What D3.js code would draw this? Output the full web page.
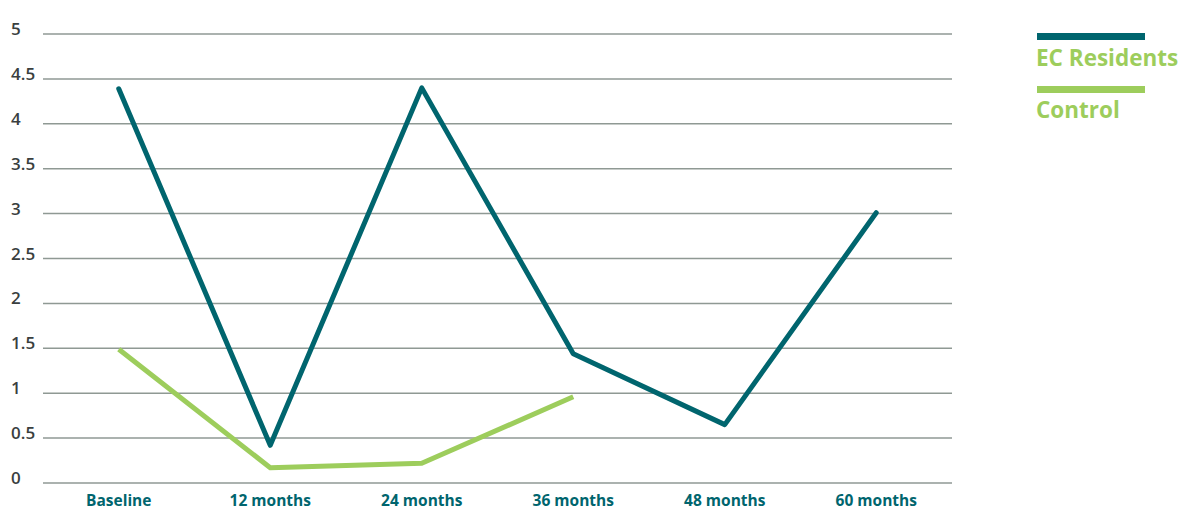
<!DOCTYPE html>
<html><head><meta charset="utf-8">
<script src="https://cdn.jsdelivr.net/npm/d3@7"></script>
<style>body{margin:0;background:#fff}svg{display:block}</style>
</head><body><div id="chart"></div>
<script>
const categories = ["Baseline","12 months","24 months","36 months","48 months","60 months"];
const ecResidents = [4.39, 0.42, 4.40, 1.44, 0.65, 3.01];
const control = [1.49, 0.17, 0.22, 0.96];
const yTicks = [0,0.5,1,1.5,2,2.5,3,3.5,4,4.5,5];
const seriesNames = ["EC Residents","Control"];

const W=1183,H=511;
const dark="#00656e", green="#9dcd5c", grid="#8f9994";
const svg=d3.select("#chart").append("svg").attr("width",W).attr("height",H);
const x=d3.scaleBand().domain(categories).range([43,952]).padding(0);
const y=d3.scaleLinear().domain([0,5]).range([483,34]);

const g=svg.append("g");
g.selectAll("line.grid").data(yTicks).join("line").attr("class","grid")
 .attr("x1",43).attr("x2",952).attr("y1",d=>y(d)).attr("y2",d=>y(d))
 .attr("stroke",grid).attr("stroke-width",1.5);
g.selectAll("text.yl").data(yTicks).join("text").attr("class","yl")
 .attr("x",11).attr("y",d=>y(d)+1).text(d=>d)
 .attr("font-family","Open Sans").attr("font-weight",600).attr("font-size",17).attr("fill","#3a3f3f");
g.selectAll("text.xl").data(categories).join("text").attr("class","xl")
 .attr("x",d=>x(d)+x.bandwidth()/2).attr("y",506).attr("text-anchor","middle").text(d=>d)
 .attr("font-family","Open Sans").attr("font-weight",700).attr("font-size",15.5).attr("fill",dark);

const line=d3.line().x((d,i)=>x(categories[i])+x.bandwidth()/2).y(d=>y(d));
g.append("path").datum(control).attr("d",line).attr("fill","none").attr("stroke",green)
 .attr("stroke-width",5).attr("stroke-linejoin","round");
g.append("path").datum(ecResidents).attr("d",line).attr("fill","none").attr("stroke",dark)
 .attr("stroke-width",5).attr("stroke-linejoin","round").attr("stroke-linecap","round");

const leg=svg.append("g");
const legColors=[dark,green];
seriesNames.forEach((n,i)=>{
  leg.append("rect").attr("x",1037).attr("y",33+i*53).attr("width",108).attr("height",7).attr("fill",legColors[i]);
  leg.append("text").attr("x",1036).attr("y",66+i*52).text(n)
   .attr("font-family","Open Sans").attr("font-weight",700).attr("font-size",22.5).attr("fill",green);
});
</script></body></html>
